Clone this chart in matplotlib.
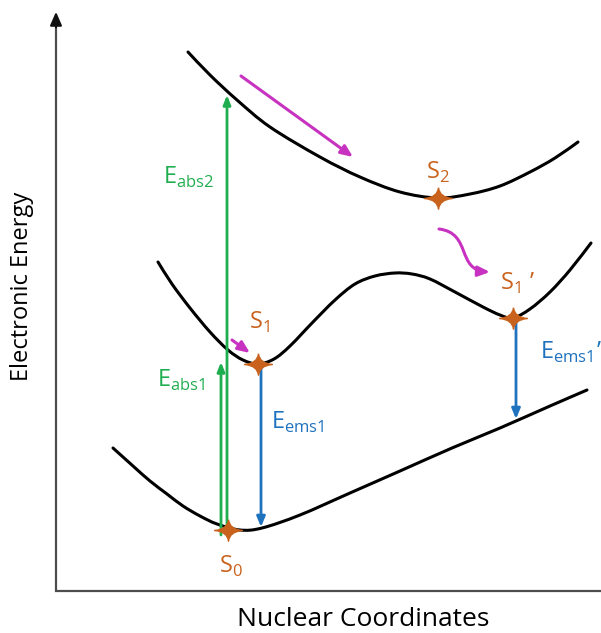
import numpy as np
import matplotlib.pyplot as plt
from matplotlib.path import Path
import matplotlib.patches as mpatches

plt.rcParams['font.family'] = ['Open Sans', 'DejaVu Sans']
plt.rcParams['mathtext.fontset'] = 'custom'
plt.rcParams['mathtext.rm'] = 'Open Sans'

# potential energy curves (pixel coords, y down)
s0_x = [113, 133, 150, 167, 183, 200, 217, 240, 262, 300, 350, 400, 452, 500, 550, 587]
s0_y = [448, 466, 481, 494, 506, 516, 524, 530, 528, 515, 493, 471, 448, 428, 406, 390]

s1_x = [158, 172, 190, 210, 228, 243, 258, 274, 290, 313, 335, 355, 375, 395, 412, 430,
        455, 483, 500, 513, 530, 550, 570, 591]
s1_y = [262, 284, 308, 332, 350, 360, 364, 359, 346, 322, 300, 284, 276, 273, 274, 279,
        292, 307, 315, 318, 309, 292, 270, 243]

s2_x = [188, 210, 237, 270, 320, 360, 400, 438, 470, 500, 530, 555, 578]
s2_y = [52, 75, 100, 127, 157, 177, 192, 198, 194, 186, 172, 158, 142]

# state minima (stars) and labels
state_x = [228, 258, 438, 513]
state_y = [530, 364, 198, 318]
state_lbl = ['S$_0$', 'S$_1$', 'S$_2$', 'S$_1$ \u2019']
state_lx = [231, 259, 438, 518]
state_ly = [566, 322, 172, 283]

# vertical transitions: x, y_start, y_end
abs_x = [227, 221]
abs_y0 = [535, 535]
abs_y1 = [95, 362]
abs_lbl = ['E$_{\\mathrm{abs2}}$', 'E$_{\\mathrm{abs1}}$']
abs_lx = [163, 157]
abs_ly = [177, 380]

ems_x = [261, 516]
ems_y0 = [366, 321]
ems_y1 = [527, 419]
ems_lbl = ['E$_{\\mathrm{ems1}}$', 'E$_{\\mathrm{ems1}}$\u2019']
ems_lx = [271, 540]
ems_ly = [422, 352]

GREEN = '#1fae4f'
BLUE = '#1f72be'
ORANGE = '#c8621c'
MAGENTA = '#c832c0'


def smooth_path(xs, ys):
    # cubic bezier through the points (catmull-rom tangents)
    p = np.column_stack([xs, ys]).astype(float)
    n = len(p)
    verts = [tuple(p[0])]
    codes = [Path.MOVETO]
    for i in range(n - 1):
        t0 = (p[min(i + 1, n - 1)] - p[max(i - 1, 0)]) / 6
        t1 = (p[min(i + 2, n - 1)] - p[i]) / 6
        verts += [tuple(p[i] + t0), tuple(p[i + 1] - t1), tuple(p[i + 1])]
        codes += [Path.CURVE4] * 3
    return Path(verts, codes)


fig = plt.figure(figsize=(6.01, 6.33), dpi=100)
ax = fig.add_axes([0, 0, 1, 1])
ax.set_xlim(0, 601)
ax.set_ylim(633, 0)
ax.axis('off')

# axes of the diagram
ax.plot([56, 56, 601], [26, 591, 591], color='#4d4d4d', lw=1.6, solid_joinstyle='miter')
ax.annotate('', xy=(56, 9), xytext=(56, 30),
            arrowprops=dict(arrowstyle='-|>,head_width=0.35,head_length=0.8',
                            color='#111111', lw=1.6))
ax.text(22, 286, 'Electronic Energy', rotation=90, ha='center', va='center', fontsize=17)
ax.text(363, 619, 'Nuclear Coordinates', ha='center', va='center', fontsize=19)

for xs, ys in [(s0_x, s0_y), (s1_x, s1_y), (s2_x, s2_y)]:
    ax.add_patch(mpatches.PathPatch(smooth_path(xs, ys), fill=False, ec='black',
                                    lw=2.2, capstyle='round', zorder=2))

# transitions
for x, y0, y1, lbl, lx, ly in zip(abs_x, abs_y0, abs_y1, abs_lbl, abs_lx, abs_ly):
    ax.annotate('', xy=(x, y1), xytext=(x, y0),
                arrowprops=dict(arrowstyle='-|>,head_width=0.22,head_length=0.55',
                                color=GREEN, lw=2, shrinkA=0, shrinkB=0), zorder=3)
    ax.text(lx, ly, lbl, color=GREEN, fontsize=17, ha='left', va='center')

for x, y0, y1, lbl, lx, ly in zip(ems_x, ems_y0, ems_y1, ems_lbl, ems_lx, ems_ly):
    ax.annotate('', xy=(x, y1), xytext=(x, y0),
                arrowprops=dict(arrowstyle='-|>,head_width=0.25,head_length=0.6',
                                color=BLUE, lw=2, shrinkA=0, shrinkB=0), zorder=3)
    ax.text(lx, ly, lbl, color=BLUE, fontsize=17, ha='left', va='center')

# relaxation arrows
mstyle = dict(arrowstyle='-|>,head_width=0.3,head_length=0.7', color=MAGENTA, lw=2.2,
              shrinkA=0, shrinkB=0)
ax.annotate('', xy=(353, 157), xytext=(241, 76), arrowprops=mstyle)
ax.annotate('', xy=(250, 353), xytext=(232, 340), arrowprops=mstyle)
wave = Path([(439, 229), (472, 233), (456, 270), (490, 272)],
            [Path.MOVETO, Path.CURVE4, Path.CURVE4, Path.CURVE4])
ax.add_patch(mpatches.FancyArrowPatch(path=wave, arrowstyle=mstyle['arrowstyle'],
                                      color=MAGENTA, lw=2.2, mutation_scale=10))

# state stars
star = Path([(0, 1), (0.1, 0.1), (1.3, 0), (0.1, -0.1), (0, -1), (-0.1, -0.1),
             (-1.3, 0), (-0.1, 0.1), (0, 1)],
            [Path.MOVETO, Path.CURVE3, Path.CURVE3, Path.CURVE3, Path.CURVE3,
             Path.CURVE3, Path.CURVE3, Path.CURVE3, Path.CURVE3])
ax.plot(state_x, state_y, ls='none', marker=star, ms=20, color=ORANGE, zorder=5)
for lbl, lx, ly in zip(state_lbl, state_lx, state_ly):
    ax.text(lx, ly, lbl, color=ORANGE, fontsize=17, ha='center', va='center')

fig.savefig('out.png', dpi=100)
